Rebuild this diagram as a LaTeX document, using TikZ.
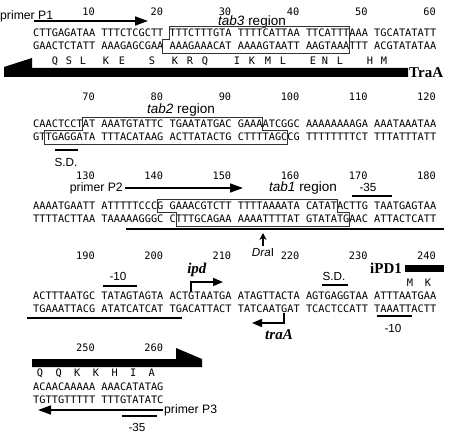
\documentclass[tikz,border=0pt]{standalone}
\usepackage{fontspec}
\usetikzlibrary{arrows.meta,calc,positioning}
\newfontfamily\seqfont{DejaVu Sans Mono}
\newfontfamily\lblfont{Liberation Sans}
\newfontfamily\genefont{Liberation Serif}

\begin{document}
\begin{tikzpicture}[x=1pt,y=-1pt,>=Latex,
  seq/.style={font=\seqfont\fontsize{10.3}{12}\selectfont,inner sep=0pt,anchor=west},
  posnum/.style={font=\seqfont\fontsize{10.3}{12}\selectfont,inner sep=0pt,anchor=east},
  aa/.style={font=\seqfont\fontsize{10.3}{12}\selectfont,inner sep=0pt},
  lbl/.style={font=\lblfont\fontsize{12.2}{14}\selectfont,inner sep=0pt},
  sitelbl/.style={font=\lblfont\fontsize{11.7}{14}\selectfont,inner sep=0pt},
  tablbl/.style={font=\lblfont\fontsize{13.5}{15}\selectfont,inner sep=0pt},
  gene/.style={font=\genefont\bfseries\fontsize{15}{17}\selectfont,inner sep=0pt},
  tabbox/.style={draw=black!80,line width=.8pt},
  sitebar/.style={line width=2.6pt},
  uline/.style={line width=1.6pt},
  primer/.style={line width=1.5pt,-{Triangle[length=13pt,width=9pt]}},
  tss/.style={line width=1.5pt,-{Triangle[length=10pt,width=8pt]}}]
  \useasboundingbox (0,0) rectangle (461,433);

  % position numbers
  \foreach \r/\y/\s in {1/11.5/10,2/97/70,3/176/130,4/256/190}{
    \foreach \b in {1,...,6}{
      \pgfmathtruncatemacro\n{\s+10*(\b-1)}
      \node[posnum] (n\n) at ({33+(11*\b-1)*6.2},\y) {\n};
    }
  }
  \node[posnum] (n250) at (95,348) {250};
  \node[posnum] (n260) at (163.2,348) {260};

  % sequences
  \node[seq] (r1t) at (33,33) {CTTGAGATAA TTTCTCGCTT TTTCTTTGTA TTTTCATTAA TTCATTTAAA TGCATATATT};
  \node[seq] (r1b) at (33,46) {GAACTCTATT AAAGAGCGAA AAAGAAACAT AAAAGTAATT AAGTAAATTT ACGTATATAA};
  \node[seq] (r2t) at (33,124) {CAACTCCTAT AAATGTATTC TGAATATGAC GAAAATCGGC AAAAAAAAGA AAATAAATAA};
  \node[seq] (r2b) at (33,137) {GTTGAGGATA TTTACATAAG ACTTATACTG CTTTTAGCCG TTTTTTTTCT TTTATTTATT};
  \node[seq] (r3t) at (33,206) {AAAATGAATT ATTTTTCCCG GAAACGTCTT TTTTAAAATA CATATACTTG TAATGAGTAA};
  \node[seq] (r3b) at (33,219) {TTTTACTTAA TAAAAAGGGC CTTTGCAGAA AAAATTTTAT GTATATGAAC ATTACTCATT};
  \node[seq] (r4t) at (33,296) {ACTTTAATGC TATAGTAGTA ACTGTAATGA ATAGTTACTA AGTGAGGTAA ATTTAATGAA};
  \node[seq] (r4b) at (33,309) {TGAAATTACG ATATCATCAT TGACATTACT TATCAATGAT TCACTCCATT TAAATTACTT};
  \node[seq] (r5t) at (33,387) {ACAACAAAAA AAACATATAG};
  \node[seq] (r5b) at (33,400) {TGTTGTTTTT TTTGTATATC};

  % amino acids
  \foreach \x/\a [count=\i] in {55/Q,69/S,83/L,106/K,122/E,152/S,175/K,190/R,205/Q,237/I,252/K,268/M,283/L,313/E,325/N,340/L,370/H,384/M}
    \node[aa] (aa1\i) at (\x,61) {\a};
  \node[aa] (aaM) at (410,283) {M};
  \node[aa] (aaK) at (428,283) {K};
  \foreach \x/\a [count=\i] in {40/Q,58.7/Q,77.3/K,96/K,114.6/H,133.2/I,151.8/A}
    \node[aa] (aa5\i) at (\x,373) {\a};

  % row 1
  \node[lbl,anchor=west] (p1) at (0,16) {primer P1};
  \coordinate (p1s) at (34,21);
  \coordinate (p1e) at (148,21);
  \draw[primer] (p1s) -- (p1e);
  \node[tablbl] (tab3) at (252,22) {\textit{tab3} region};
  \draw[tabbox] (169,26) -- (349,26) -- (349,53) -- (162,53) -- (162,39.5) -- (169,39.5) -- cycle;
  \fill (4,67) -- (32,58) -- (32,68) -- (408,68) -- (408,77) -- (4,77) -- cycle;
  \node[gene,anchor=west] (traa) at (409,73) {TraA};

  % row 2
  \node[tablbl] (tab2) at (181,110) {\textit{tab2} region};
  \draw[tabbox] (82.6,117) -- (262.4,117) -- (262.4,130.5) -- (287.2,130.5) -- (287.2,144)
    -- (44,144) -- (44,130.5) -- (82.6,130.5) -- cycle;
  \draw[sitebar] (55,150) -- (78,150);
  \node[sitelbl] (sd1) at (66,162) {S.D.};

  % row 3
  \node[lbl,anchor=east] (p2) at (123,188) {primer P2};
  \coordinate (p2s) at (125,188);
  \coordinate (p2e) at (243,188);
  \draw[primer] (p2s) -- (p2e);
  \node[tablbl] (tab1) at (303,188) {\textit{tab1} region};
  \node[sitelbl] (m35a) at (368,187) {-35};
  \draw[sitebar] (352,196) -- (392,196);
  \draw[tabbox] (157,199) -- (337,199) -- (337,212.5) -- (349,212.5) -- (349,226)
    -- (176,226) -- (176,212.5) -- (157,212.5) -- cycle;
  \draw[uline] (126,229) -- (444,229);
  \coordinate (drat) at (263,233);
  \coordinate (dras) at (263,246);
  \draw[line width=1.2pt,-{Stealth[length=7pt,width=7pt]}] (dras) -- (drat);
  \node[sitelbl] (dra) at (263,253) {\textit{Dra}I};

  % row 4
  \node[sitelbl] (m10a) at (118,276) {-10};
  \draw[sitebar] (103,286) -- (137,286);
  \node[gene] (ipd) at (197,270) {\textit{ipd}};
  \draw[tss] (191,292) -- (191,282) -- (223,282);
  \node[sitelbl] (sd2) at (334,276) {S.D.};
  \draw[sitebar] (322,285) -- (348,285);
  \node[gene,anchor=west] (ipd1) at (370,268) {iPD1};
  \fill (405,265) rectangle (444,272);
  \draw[uline] (27,318) -- (182,318);
  \draw[tss] (284,313) -- (284,323) -- (252,323);
  \node[gene] (traA) at (279,335) {\textit{traA}};
  \draw[sitebar] (377,316) -- (412,316);
  \node[sitelbl] (m10b) at (393,328) {-10};

  % row 5
  \fill (32,359) -- (176,359) -- (176,348) -- (202,359) -- (202,367) -- (32,367) -- cycle;
  \node[lbl,anchor=west] (p3) at (164,410) {primer P3};
  \coordinate (p3s) at (163,410);
  \coordinate (p3e) at (38,410);
  \draw[primer] (p3s) -- (p3e);
  \draw[sitebar] (122,416) -- (157,416);
  \node[sitelbl] (m35b) at (137,427) {-35};
\end{tikzpicture}
\end{document}
